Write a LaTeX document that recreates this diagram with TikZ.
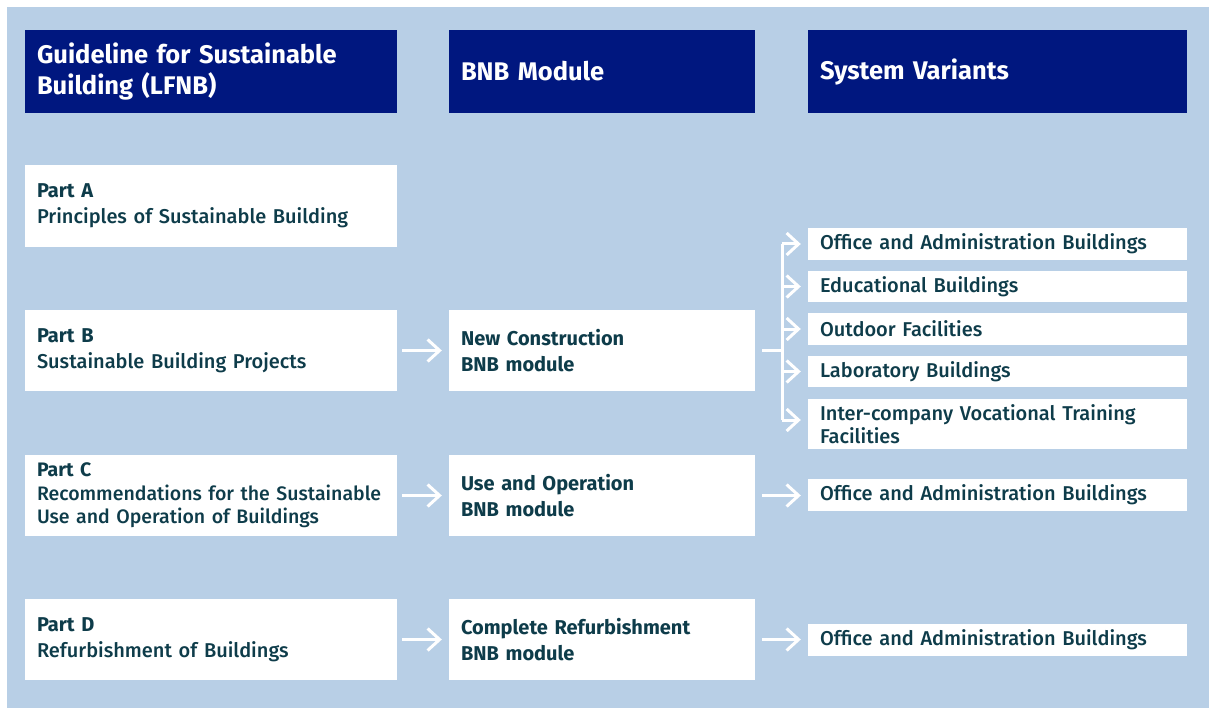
\documentclass[tikz,border=0pt]{standalone}
\usepackage{fontspec}
\setmainfont{Fira Sans}[UprightFont=* Medium,BoldFont=* Bold]
\usetikzlibrary{arrows.meta,calc}
\definecolor{bgblue}{HTML}{B8CFE6}
\definecolor{navy}{HTML}{00177F}
\definecolor{ink}{HTML}{0E3C4A}
\begin{document}
\begin{tikzpicture}[x=1pt,y=-1pt,
  hbox/.style={fill=navy,draw=none,inner xsep=12pt,inner ysep=0pt,align=left,text=white,
    font=\fontsize{25.5}{31}\selectfont\bfseries},
  wbox/.style={fill=white,draw=none,inner xsep=12pt,inner ysep=0pt,align=left,text=ink,
    font=\fontsize{20}{26}\selectfont},
  tight/.style={font=\fontsize{20}{23.5}\selectfont},
  tighter/.style={font=\fontsize{19.5}{23.5}\selectfont},
  wline/.style={draw=white,line width=3pt},
  arr/.style={wline,-{Straight Barb[length=12pt,width=22pt,line width=3pt]}}]
\fill[white] (0,0) rectangle (1209,708);
\useasboundingbox (0,0) rectangle (1209,708);
\fill[bgblue] (7,7) rectangle (1209,708);
% headers
\node[hbox,text width=348pt,minimum height=83pt] (h1) at (211,71.5) {Guideline for Sustainable\\Building (LFNB)};
\node[hbox,text width=282pt,minimum height=83pt] (h2) at (602,71.5) {BNB Module};
\node[hbox,text width=355pt,minimum height=83pt] (h3) at (997.5,71.5) {System Variants};
% parts
\node[wbox,text width=348pt,minimum height=82pt] (pA) at (211,206) {\textbf{Part A}\\Principles of Sustainable Building};
\node[wbox,text width=348pt,minimum height=81pt] (pB) at (211,350.5) {\textbf{Part B}\\Sustainable Building Projects};
\node[wbox,tighter,text width=348pt,minimum height=81pt] (pC) at (211,495.5) {\textbf{Part C}\\\mbox{Recommendations for the Sustainable}\\\mbox{Use and Operation of Buildings}};
\node[wbox,text width=348pt,minimum height=81pt] (pD) at (211,639.5) {\textbf{Part D}\\Refurbishment of Buildings};
% modules
\node[wbox,text width=282pt,minimum height=81pt] (mB) at (602,350.5) {\textbf{New Construction}\\\textbf{BNB module}};
\node[wbox,text width=282pt,minimum height=81pt] (mC) at (602,495.5) {\textbf{Use and Operation}\\\textbf{BNB module}};
\node[wbox,text width=282pt,minimum height=81pt] (mD) at (602,639.5) {\textbf{Complete Refurbishment}\\\textbf{BNB module}};
% variants
\node[wbox,text width=355pt,minimum height=32pt] (v1) at (997.5,244) {Office and Administration Buildings};
\node[wbox,text width=355pt,minimum height=31pt] (v2) at (997.5,286.5) {Educational Buildings};
\node[wbox,text width=355pt,minimum height=32pt] (v3) at (997.5,329) {Outdoor Facilities};
\node[wbox,text width=355pt,minimum height=31pt] (v4) at (997.5,371.5) {Laboratory Buildings};
\node[wbox,tight,text width=355pt,minimum height=50pt] (v5) at (997.5,424) {Inter-company Vocational Training\\Facilities};
\node[wbox,text width=355pt,minimum height=32pt] (vC) at (997.5,495) {Office and Administration Buildings};
\node[wbox,text width=355pt,minimum height=32pt] (vD) at (997.5,640) {Office and Administration Buildings};
% connectors
\draw[arr,shorten <=5pt,shorten >=7pt] (pB) -- (mB);
\draw[arr,shorten <=5pt,shorten >=7pt] (pC) -- (mC);
\draw[arr,shorten <=5pt,shorten >=7pt] (pD) -- (mD);
\draw[arr,shorten <=7pt,shorten >=7pt] (mC.east) -- (mC.east -| vC.west);
\draw[arr,shorten <=7pt,shorten >=7pt] (mD.east) -- (mD.east -| vD.west);
\coordinate (br) at (782,350.5);
\coordinate (v5in) at ($(v5.west)+(0,-4)$);
\draw[wline,shorten <=7pt] (mB.east) -- (br);
\draw[wline] (br |- v1.west) -- (br |- v5in);
\foreach \v in {v1,v2,v3,v4} \draw[arr,shorten >=7pt] (br |- \v.west) -- (\v.west);
\draw[arr,shorten >=7pt] (br |- v5in) -- (v5in);
\end{tikzpicture}
\end{document}
